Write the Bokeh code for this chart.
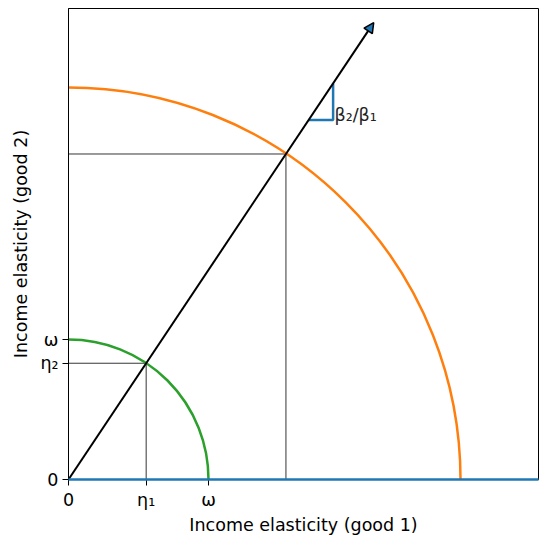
import numpy as np
from bokeh.plotting import figure
from bokeh.models import Range1d, FixedTicker, Arrow, NormalHead
from bokeh.core.properties import value
from bokeh.embed import file_html
from bokeh.resources import INLINE

# ---- data ----
omega = 1.0
beta = [1.0, 1.5]            # beta1, beta2 (slope beta2/beta1)
big_radius = 2.8             # outer (orange) arc radius
arrow_length = 3.93          # length of ray along direction beta
x_tick_labels = ["0", "η₁", "ω"]
y_tick_labels = ["0", "η₂", "ω"]
tri_start_x = [1.715]
tri_dx = [0.175]
ratio_label = "β₂/β₁"
x_max = 3.357
y_max = 3.371

b = np.array(beta)
u = b / np.linalg.norm(b)
eta = omega * u
big_pt = big_radius * u
arrow_end = arrow_length * u

FONT = "DejaVu Sans"
FS = "17.5px"
p = figure(width=539, height=537, output_backend="svg", toolbar_location=None,
           x_range=Range1d(0, x_max), y_range=Range1d(0, y_max),
           min_border_left=68, min_border_right=1, min_border_top=8, min_border_bottom=57)
p.xgrid.visible = False
p.ygrid.visible = False
p.outline_line_color = "black"
p.outline_line_width = 1
p.background_fill_color = "white"
p.border_fill_color = "white"

xt = [0.0, eta[0], omega]
yt = [0.0, eta[1], omega]
p.xaxis.ticker = FixedTicker(ticks=xt)
p.yaxis.ticker = FixedTicker(ticks=yt)
p.xaxis.major_label_overrides = {float(t): l for t, l in zip(xt, x_tick_labels)}
p.yaxis.major_label_overrides = {float(t): l for t, l in zip(yt, y_tick_labels)}
for ax in (p.xaxis, p.yaxis):
    ax.minor_tick_line_color = None
    ax.major_tick_out = 6
    ax.major_tick_in = 0
    ax.major_tick_line_color = "black"
    ax.major_tick_line_width = 1
    ax.axis_line_color = "black"
    ax.major_label_text_font = FONT
    ax.major_label_text_font_size = FS
    ax.major_label_text_color = "black"
    ax.major_label_standoff = 4
    ax.axis_label_text_font = FONT
    ax.axis_label_text_font_size = FS
    ax.axis_label_text_font_style = "normal"
    ax.axis_label_text_color = "black"
p.xaxis.axis_label = "Income elasticity (good 1)"
p.yaxis.axis_label = "Income elasticity (good 2)"
p.xaxis.axis_label_standoff = 2
p.yaxis.axis_label_standoff = 6

# thin reference lines
for pt in (eta, big_pt):
    p.line([pt[0], pt[0]], [0, pt[1]], line_color="black", line_width=0.8)
    p.line([0, pt[0]], [pt[1], pt[1]], line_color="black", line_width=0.8)

# arcs
p.arc(x=[0], y=[0], radius=[omega], start_angle=0, end_angle=np.pi / 2,
      line_color="#2ca02c", line_width=2.5)
p.arc(x=[0], y=[0], radius=[big_radius], start_angle=0, end_angle=np.pi / 2,
      line_color="#ff7f0e", line_width=2.5)

# ray / arrow
p.add_layout(Arrow(x_start=0, y_start=0, x_end=arrow_end[0], y_end=arrow_end[1],
                   line_color="black", line_width=2,
                   end=NormalHead(size=10, fill_color="#1f77b4", line_color="black", line_width=1.5)))

# slope triangle
x0 = tri_start_x[0]
y0 = x0 * beta[1] / beta[0]
dx = tri_dx[0]
dy = dx * beta[1] / beta[0]
p.line([x0, x0 + dx, x0 + dx], [y0, y0, y0 + dy], line_color="#1f77b4", line_width=2.5)
p.text(x=[x0 + dx + 0.01], y=[y0 + 0.035], text=[ratio_label], text_font=value(FONT),
       text_font_size=FS, text_baseline="middle", text_align="left", text_color="#222222")

# horizontal blue line on x axis
p.line([0, x_max], [0, 0], line_color="#1f77b4", line_width=2.5, level="overlay")

open("out.html", "w").write(file_html(p, INLINE))
